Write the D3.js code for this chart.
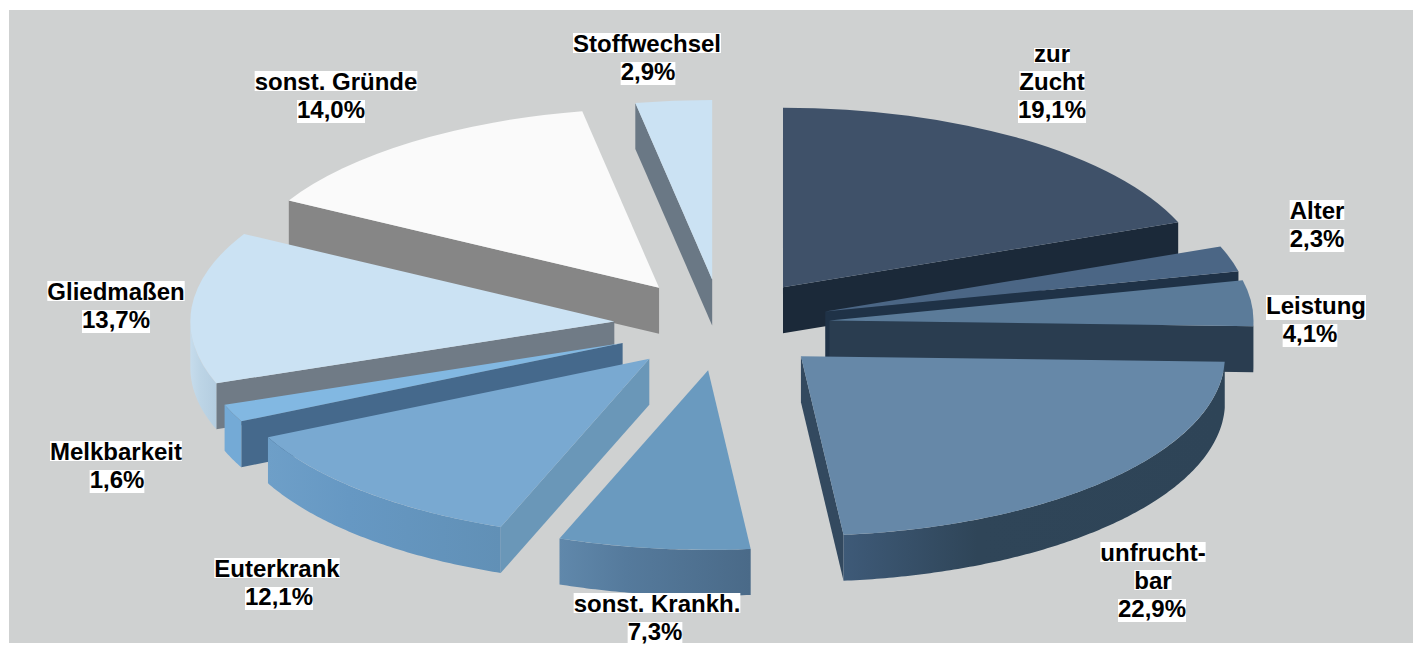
<!DOCTYPE html>
<html>
<head>
<meta charset="utf-8">
<script src="https://d3js.org/d3.v7.min.js"></script>
<style>
body { margin: 0; background: #fff; }
svg { display: block; }
.label { font: bold 24px "Liberation Sans", Arial, sans-serif; text-anchor: middle; fill: #000; }
</style>
</head>
<body>
<svg width="1413" height="645"></svg>
<script>
var categories = [
    ["zur", "Zucht"], ["Alter"], ["Leistung"], ["unfrucht-", "bar"], ["sonst. Krankh."],
    ["Euterkrank"], ["Melkbarkeit"], ["Gliedmaßen"], ["sonst. Gründe"], ["Stoffwechsel"]
];
var shares = [19.1, 2.3, 4.1, 22.9, 7.3, 12.1, 1.6, 13.7, 14.0, 2.9];

// colours per slice: top face, visible radial wall, rim gradient (left, middle, right)
var topColors = ["#3f5169", "#4b6685", "#5b7b99", "#6688a8", "#6a9abf", "#79a9d1", "#82b8e2", "#cbe2f3", "#fafafa", "#cbe2f3"];
var wallColors = ["#1b2939", "#1f3247", "#2a3d50", "#33495f", "#4b6b8c", "#6a97b8", "#45698c", "#707b86", "#868686", "#6a7885"];
var rimLeft = ["#1b2939", "#1f3247", "#2a3d50", "#3e5a78", "#6088ab", "#6e9fc8", "#74aad6", "#c6dcec", "#868686", "#6a7885"];
var rimMid = ["#1b2939", "#1f3247", "#2a3d50", "#2f4558", "#557a9c", "#6698c3", "#74aad6", "#bdd5e6", "#868686", "#6a7885"];
var rimRight = ["#1b2939", "#1f3247", "#2a3d50", "#2e4457", "#4a6a88", "#6190b6", "#74aad6", "#b4cde0", "#868686", "#6a7885"];
// centre x of each label, centre x of its percent line, baseline y of its first line
var labelX = [1052, 1317, 1316, 1153, 657, 277, 116, 116, 336, 647];
var percentX = [1052, 1317, 1310, 1152, 655, 279, 117, 116, 331, 648];
var labelY = [62, 219, 314, 561, 612, 577, 460, 300, 90, 52];

var svg = d3.select("svg"),
    cx = 722, cy = 325,
    rx = 424, ry = 179.5,
    explode = 108,
    depth = 46,
    lineGap = 28,
    tilt = ry / rx;

svg.append("rect").attr("x", 9).attr("y", 10).attr("width", 1404).attr("height", 633).attr("fill", "#cfd1d1");

var pie = d3.pie().sort(null).value(function(d) { return d; });
var slices = pie(shares).map(function(d, i) {
    var mid = (d.startAngle + d.endAngle) / 2;
    return {
        i: i,
        a0: d.startAngle,
        a1: d.endAngle,
        ax: cx + explode * Math.sin(mid),
        ay: cy - explode * tilt * Math.cos(mid),
        d: d
    };
});
// paint from the back to the front
slices.sort(function(a, b) { return a.ay - b.ay; });

var arc = d3.arc().innerRadius(0).outerRadius(rx);
var line = d3.line();
var defs = svg.append("defs");

function rimPoint(s, a, dy) {
    return [s.ax + rx * Math.sin(a), s.ay - ry * Math.cos(a) + dy];
}

function radialWall(s, a) {
    return line([[s.ax, s.ay], rimPoint(s, a, 0), rimPoint(s, a, depth), [s.ax, s.ay + depth]]) + "Z";
}

function rimWall(s, from, to) {
    var steps = d3.range(from, to, 0.01).concat([to]);
    var upper = steps.map(function(a) { return rimPoint(s, a, 0); });
    var lower = steps.slice().reverse().map(function(a) { return rimPoint(s, a, depth); });
    return line(upper.concat(lower)) + "Z";
}

slices.forEach(function(s) {
    var g = svg.append("g");
    var i = s.i;

    // radial side facing the viewer
    if (Math.sin(s.a1) > 0) {
        g.append("path").attr("d", radialWall(s, s.a1)).attr("fill", wallColors[i]);
    }
    if (Math.sin(s.a0) < 0) {
        g.append("path").attr("d", radialWall(s, s.a0)).attr("fill", wallColors[i]);
    }

    // curved rim, only the front half of the ellipse shows
    var from = Math.max(s.a0, Math.PI / 2), to = Math.min(s.a1, Math.PI * 1.5);
    if (to > from) {
        var grad = defs.append("linearGradient").attr("id", "rim" + i);
        grad.append("stop").attr("offset", "0%").attr("stop-color", rimLeft[i]);
        grad.append("stop").attr("offset", "35%").attr("stop-color", rimMid[i]);
        grad.append("stop").attr("offset", "100%").attr("stop-color", rimRight[i]);
        g.append("path").attr("d", rimWall(s, from, to)).attr("fill", "url(#rim" + i + ")");
    }

    g.append("path")
        .attr("transform", "translate(" + s.ax + "," + s.ay + ") scale(1," + tilt + ")")
        .attr("d", arc(s.d))
        .attr("fill", topColors[i]);
});

// labels with a tight white box behind each line
var fmt = d3.formatLocale({decimal: ",", thousands: ".", grouping: [3], currency: ["", ""]}).format(".1f");
var ctx = document.createElement("canvas").getContext("2d");
ctx.font = 'bold 24px "Liberation Sans"';

categories.forEach(function(lines, i) {
    lines.concat([fmt(shares[i]) + "%"]).forEach(function(t, j) {
        var m = ctx.measureText(t),
            x = j == lines.length ? percentX[i] : labelX[i],
            y = labelY[i] + j * lineGap;
        svg.append("rect")
            .attr("x", x - m.width / 2)
            .attr("y", y - m.actualBoundingBoxAscent - 1)
            .attr("width", m.width)
            .attr("height", m.actualBoundingBoxAscent + m.actualBoundingBoxDescent + 2)
            .attr("fill", "#fff");
        svg.append("text")
            .attr("class", "label")
            .attr("x", x)
            .attr("y", y)
            .text(t);
    });
});
</script>
</body>
</html>
